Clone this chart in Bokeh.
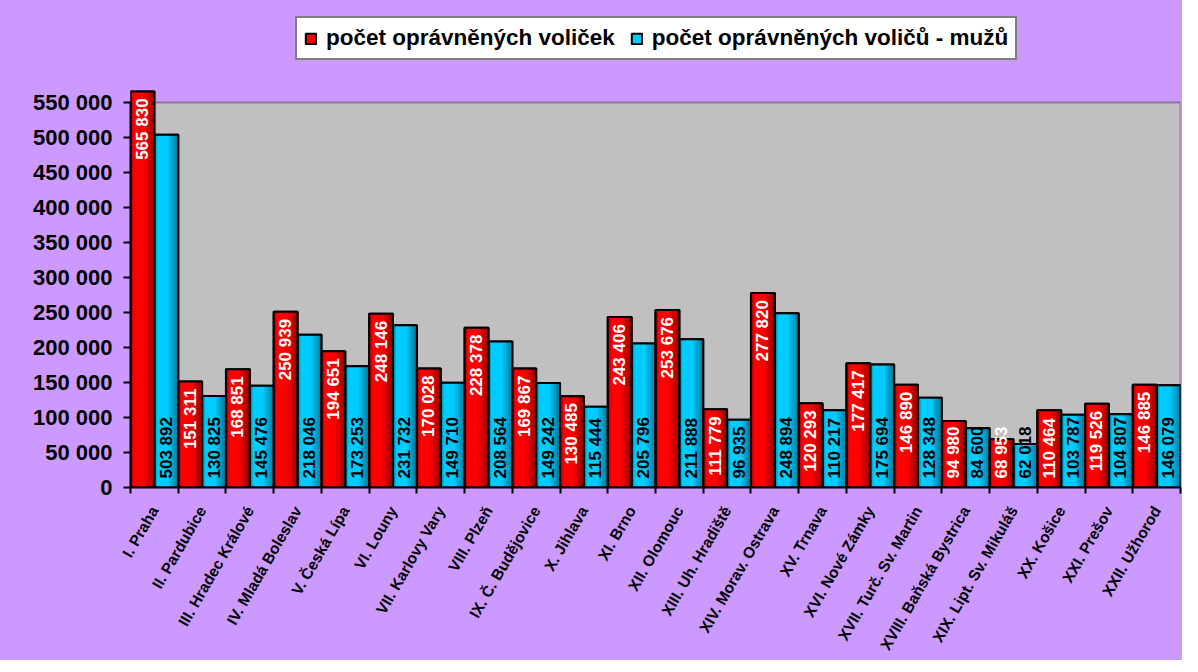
import math
from bokeh.plotting import figure
from bokeh.models import (ColumnDataSource, Range1d, FixedTicker, BoxAnnotation,
                          Legend, LegendItem)
from bokeh.transform import dodge
from bokeh.core.properties import value
from bokeh.embed import file_html
from bokeh.resources import INLINE

# ---------------- data ----------------
regions = ["I. Praha", "II. Pardubice", "III. Hradec Králové", "IV. Mladá Boleslav",
           "V. Česká Lípa", "VI. Louny", "VII. Karlovy Vary", "VIII. Plzeň",
           "IX. Č. Budějovice", "X. Jihlava", "XI. Brno", "XII. Olomouc",
           "XIII. Uh. Hradiště", "XIV. Morav. Ostrava", "XV. Trnava", "XVI. Nové Zámky",
           "XVII. Turč. Sv. Martin", "XVIII. Baňská Bystrica", "XIX. Lipt. Sv. Mikuláš",
           "XX. Košice", "XXI. Prešov", "XXII. Užhorod"]
women = [565830, 151311, 168851, 250939, 194651, 248146, 170028, 228378, 169867, 130485,
         243406, 253676, 111779, 277820, 120293, 177417, 146890, 94980, 68953, 110464,
         119526, 146885]
men = [503892, 130825, 145476, 218046, 173253, 231732, 149710, 208564, 149242, 115444,
       205796, 211888, 96935, 248894, 110217, 175694, 128348, 84600, 62018, 103787,
       104807, 146079]
series_names = ["počet oprávněných voliček", "počet oprávněných voličů - mužů"]
y_ticks = [0, 50000, 100000, 150000, 200000, 250000, 300000, 350000, 400000, 450000,
           500000, 550000]
y_tick_labels = ["0", "50 000", "100 000", "150 000", "200 000", "250 000", "300 000",
                 "350 000", "400 000", "450 000", "500 000", "550 000"]

# ---------------- style ----------------
FONT = "Liberation Sans"
LAVENDER = "#CC99FF"
GRAY = "#C0C0C0"
RED = (255, 0, 0)
BLUE = (0, 204, 255)
LEFT, TOP, BOTTOM_FRAME = 130, 6, 487
FIG_W, FIG_H = 1182, 656
FRAME_W = 1180 - LEFT
FRAME_H = BOTTOM_FRAME - TOP
AXIS_PX = 385                      # pixel height of the 0..550 000 axis
Y_END = y_ticks[-1] * FRAME_H / AXIS_PX
LABEL_PX = 17

def fmt(v):
    return f"{v:,}".replace(",", " ")

n = len(regions)
idx = list(range(n))

p = figure(frame_width=FRAME_W, frame_height=FRAME_H,
           x_range=Range1d(0, n), y_range=Range1d(0, Y_END),
           output_backend="svg", toolbar_location=None,
           min_border_left=LEFT, min_border_right=FIG_W - LEFT - FRAME_W,
           min_border_top=TOP, min_border_bottom=FIG_H - BOTTOM_FRAME)
p.background_fill_color = None
p.border_fill_color = None
p.styles = {"background-color": LAVENDER}
p.outline_line_color = None
p.xgrid.visible = False
p.ygrid.visible = False

# gray plot area up to the top tick
p.add_layout(BoxAnnotation(bottom=0, top=y_ticks[-1], fill_color=GRAY, fill_alpha=1,
                           line_color="black", line_width=2, level="underlay"))

src = ColumnDataSource(dict(idx=idx, women=women, men=men))

def shade(t):
    if t < 0.15:
        return 0.5 + 0.5 * (t / 0.15)
    if t < 0.55:
        return 1.0
    return 1.0 - 0.45 * ((t - 0.55) / 0.45)

def col(rgb, f):
    return "#%02x%02x%02x" % tuple(int(round(c * f)) for c in rgb)

# base bars (also used for legend glyphs)
r1 = p.vbar(x=dodge("idx", 0.25), top="women", width=0.5, source=src,
            fill_color=col(RED, 1), line_color="black", line_width=2)
r2 = p.vbar(x=dodge("idx", 0.75), top="men", width=0.5, source=src,
            fill_color=col(BLUE, 1), line_color="black", line_width=2)

N = 24
sw = 0.5 / N
for k in range(N):
    t = (k + 0.5) / N
    f = shade(t)
    p.vbar(x=dodge("idx", sw * (k + 0.5)), top="women", width=sw * 1.2, bottom=0,
           source=src, fill_color=col(RED, f), line_color=None)
    p.vbar(x=dodge("idx", 0.5 + sw * (k + 0.5)), top="men", width=sw * 1.2, bottom=0,
           source=src, fill_color=col(BLUE, f), line_color=None)

p.vbar(x=dodge("idx", 0.25), top="women", width=0.5, source=src, fill_alpha=0,
       line_color="black", line_width=2)
p.vbar(x=dodge("idx", 0.75), top="men", width=0.5, source=src, fill_alpha=0,
       line_color="black", line_width=2)

# ---------------- value labels ----------------
ppu = FRAME_H / Y_END
def text_len(s):
    return LABEL_PX * sum(0.278 if ch == " " else 0.556 for ch in s)

top_x, top_y, top_t, base_x, base_t = [], [], [], [], []
for i, v in zip(idx, women):
    s = fmt(v)
    if v * ppu >= text_len(s) + 16:
        top_x.append(i); top_y.append(v); top_t.append(s)
    else:
        base_x.append(i); base_t.append(s)

lab_kw = dict(angle=math.pi / 2, text_font=value(FONT), text_font_style="bold",
              text_font_size=f"{LABEL_PX}px", text_baseline="middle")
p.text(x=dodge("x", 0.25), y="y", text="t",
       source=ColumnDataSource(dict(x=top_x, y=top_y, t=top_t)),
       text_align="right", y_offset=7, text_color="white", **lab_kw)
p.text(x=dodge("x", 0.25), y=0, text="t",
       source=ColumnDataSource(dict(x=base_x, t=base_t)),
       text_align="left", y_offset=-9, text_color="white", **lab_kw)
p.text(x=dodge("x", 0.75), y=0, text="t",
       source=ColumnDataSource(dict(x=idx, t=[fmt(v) for v in men])),
       text_align="left", y_offset=-9, text_color="black", **lab_kw)

# ---------------- axes ----------------
xa = p.xaxis[0]
xa.ticker = FixedTicker(ticks=[i + 0.5 for i in idx], minor_ticks=list(range(n + 1)))
xa.major_label_overrides = {i + 0.5: r for i, r in zip(idx, regions)}
xa.major_label_orientation = math.pi / 3
xa.major_tick_out = 0
xa.major_tick_in = 0
xa.minor_tick_out = 6
xa.minor_tick_in = 0
xa.minor_tick_line_color = "black"
xa.minor_tick_line_width = 2
xa.axis_line_width = 2
xa.axis_line_color = "black"
xa.major_label_text_font = FONT
xa.major_label_text_font_style = "bold"
xa.major_label_text_font_size = "15.5px"
xa.major_label_text_color = "black"
xa.major_label_standoff = 14

ya = p.yaxis[0]
ya.ticker = FixedTicker(ticks=y_ticks)
ya.major_label_overrides = {t: l for t, l in zip(y_ticks, y_tick_labels)}
ya.bounds = (y_ticks[0], y_ticks[-1])
ya.major_tick_out = 7
ya.major_tick_in = 0
ya.minor_tick_out = 0
ya.minor_tick_in = 0
ya.major_tick_line_width = 2
ya.major_tick_line_color = "black"
ya.axis_line_width = 2
ya.axis_line_color = "black"
ya.major_label_text_font = FONT
ya.major_label_text_font_style = "bold"
ya.major_label_text_font_size = "22px"
ya.major_label_text_color = "black"
ya.major_label_standoff = 11

# ---------------- legend ----------------
legend = Legend(items=[LegendItem(label=series_names[0], renderers=[r1]),
                       LegendItem(label=series_names[1], renderers=[r2])],
                orientation="horizontal", location=(165, 427),
                label_text_font=FONT, label_text_font_style="bold",
                label_text_font_size="22.5px", label_text_color="black",
                glyph_width=13, glyph_height=13, label_standoff=9, spacing=15,
                padding=7, margin=0, border_line_color="black", border_line_width=2,
                background_fill_color="white", background_fill_alpha=1)
p.add_layout(legend, "center")

open("out.html", "w").write(file_html(p, INLINE))
